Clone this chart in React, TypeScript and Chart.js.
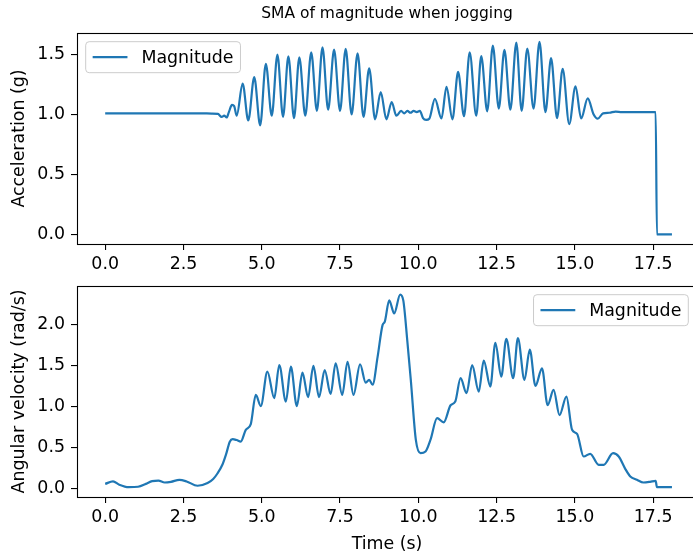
import React, { useEffect, useRef } from "react";
import { Chart, registerables } from "chart.js";

Chart.register(...registerables);

// ---------- data ----------
const chartTitle = "SMA of magnitude when jogging";
const seriesLabel = "Magnitude";
const accAxisLabel = "Acceleration (g)";
const gyroAxisLabel = "Angular velocity (rad/s)";
const timeAxisLabel = "Time (s)";

const xTickValues = [0, 2.5, 5, 7.5, 10, 12.5, 15, 17.5];
const accTickValues = [0, 0.5, 1.0, 1.5];
const gyroTickValues = [0, 0.5, 1.0, 1.5, 2.0];

const accTime = [
  0.0, 0.5, 1.0, 1.5, 2.0, 2.5, 3.0, 3.4, 3.6, 3.72, 3.8, 3.88, 3.95, 4.05, 4.12, 4.2,
  4.39, 4.57, 4.76, 4.95, 5.13, 5.32, 5.5, 5.68, 5.85, 6.03, 6.2, 6.39, 6.58, 6.76, 6.94,
  7.12, 7.31, 7.5, 7.68, 7.87, 8.06, 8.25, 8.43, 8.62, 8.8, 8.98, 9.15, 9.3, 9.45, 9.55,
  9.65, 9.75, 9.85, 9.95, 10.05, 10.15, 10.25, 10.35, 10.53, 10.74, 10.9, 11.09, 11.27,
  11.46, 11.64, 11.85, 12.01, 12.2, 12.38, 12.57, 12.75, 12.94, 13.13, 13.3, 13.48, 13.68,
  13.87, 14.06, 14.24, 14.43, 14.61, 14.82, 15.02, 15.2, 15.41, 15.6, 15.73, 15.9, 16.1,
  16.3, 16.5, 17.0, 17.58, 17.62, 18.1,
];
const accValues = [
  1.01, 1.01, 1.01, 1.01, 1.01, 1.01, 1.01, 1.008, 1.005, 0.98, 0.99, 0.975, 1.02, 1.08, 1.07, 0.99,
  1.257, 0.95, 1.312, 0.91, 1.423, 0.99, 1.5, 0.98, 1.486, 0.97, 1.477, 0.99, 1.519, 1.03, 1.56,
  1.04, 1.541, 1.03, 1.547, 1.0, 1.51, 0.98, 1.386, 0.96, 1.187, 0.96, 1.104, 0.99, 1.03, 1.01,
  1.03, 1.015, 1.03, 1.02, 1.03, 0.97, 0.955, 0.965, 1.13, 0.967, 1.23, 0.96, 1.355,
  0.986, 1.519, 0.99, 1.488, 1.027, 1.574, 1.05, 1.54, 1.04, 1.6, 1.03, 1.55, 1.05,
  1.607, 1.02, 1.47, 0.97, 1.38, 0.92, 1.236, 0.967, 1.135, 1.0, 0.965, 1.01, 1.015,
  1.025, 1.02, 1.02, 1.02, 0.0, 0.0,
];

const gyroTime = [
  0.0, 0.25, 0.45, 0.75, 1.05, 1.3, 1.5, 1.7, 1.9, 2.1, 2.37, 2.6, 2.95, 3.27, 3.45, 3.59,
  3.75, 3.86, 3.98, 4.07, 4.2, 4.33, 4.49, 4.65, 4.81, 4.97, 5.18, 5.4, 5.56, 5.77, 5.93,
  6.12, 6.3, 6.48, 6.65, 6.83, 7.01, 7.2, 7.36, 7.57, 7.74, 7.93, 8.14, 8.32, 8.43, 8.54,
  8.7, 8.86, 8.93, 9.07, 9.23, 9.42, 9.52, 9.65, 9.76, 9.92, 10.07, 10.23, 10.39, 10.6,
  10.81, 11.03, 11.18, 11.35, 11.54, 11.72, 11.93, 12.09, 12.3, 12.46, 12.65, 12.81, 13.03,
  13.18, 13.39, 13.56, 13.74, 13.95, 14.13, 14.32, 14.51, 14.73, 14.91, 15.07, 15.28,
  15.49, 15.76, 15.92, 16.22, 16.4, 16.6, 16.77, 16.98, 17.19, 17.4, 17.58, 17.62, 18.1,
];
const gyroValues = [
  0.06, 0.09, 0.05, 0.02, 0.025, 0.06, 0.094, 0.1, 0.077, 0.085, 0.11, 0.09, 0.037, 0.07, 0.12, 0.19,
  0.3, 0.42, 0.575, 0.606, 0.595, 0.577, 0.72, 0.79, 1.146, 1.01, 1.43, 1.106, 1.51, 1.065, 1.49,
  1.01, 1.418, 1.118, 1.5, 1.118, 1.45, 1.158, 1.53, 1.146, 1.55, 1.146, 1.52, 1.296, 1.33, 1.27,
  1.61, 2.0, 2.04, 2.3, 2.14, 2.37, 2.3, 1.8, 1.33, 0.6, 0.435, 0.455, 0.6, 0.862,
  0.81, 1.02, 1.065, 1.35, 1.167, 1.51, 1.187, 1.565, 1.248, 1.78, 1.37, 1.83, 1.35,
  1.84, 1.33, 1.7, 1.256, 1.47, 1.02, 1.207, 0.9, 1.126, 0.72, 0.67, 0.394,
  0.427, 0.293, 0.293, 0.435, 0.394, 0.25, 0.15, 0.11, 0.077, 0.085, 0.097, 0.02, 0.02,
];

// ---------- axis limits ----------
const X_MIN = -0.9;
const X_MAX = 18.9;
const ACC_MIN = -0.08;
const ACC_MAX = 1.68;
const GYRO_MIN = -0.1;
const GYRO_MAX = 2.475;

// ---------- style ----------
const FAMILY = "'DejaVu Sans', sans-serif";
const FS = 17.4;
const TITLE_FS = 15.5;
const BLUE = "#1f77b4";
const CANVAS_W = 710;
const CANVAS_H = 285;

const mplPlugin = {
  id: "mplFrame",
  afterDraw(chart: any) {
    const { ctx, chartArea: a } = chart;
    const o = chart.options.plugins.mplFrame || {};
    ctx.save();
    // frame (spines)
    ctx.strokeStyle = "#000";
    ctx.lineWidth = 1.1;
    const l = Math.round(a.left) + 0.5;
    const t = Math.round(a.top) + 0.5;
    const r = Math.round(a.right) + 0.5;
    const b = Math.round(a.bottom) + 0.5;
    ctx.strokeRect(l, t, r - l, b - t);
    // legend
    const label = chart.data.datasets[0].label;
    ctx.font = `${FS}px ${FAMILY}`;
    const tw = ctx.measureText(label).width;
    const pad = 0.4 * FS;
    const hl = 2 * FS;
    const htp = 0.8 * FS;
    const bap = 0.5 * FS;
    const w = pad + hl + htp + tw + pad;
    const h = 31;
    const x0 = o.corner === "right" ? a.right - bap - w : a.left + bap;
    const y0 = a.top + bap;
    const rad = 3.5;
    ctx.beginPath();
    ctx.moveTo(x0 + rad, y0);
    ctx.lineTo(x0 + w - rad, y0);
    ctx.quadraticCurveTo(x0 + w, y0, x0 + w, y0 + rad);
    ctx.lineTo(x0 + w, y0 + h - rad);
    ctx.quadraticCurveTo(x0 + w, y0 + h, x0 + w - rad, y0 + h);
    ctx.lineTo(x0 + rad, y0 + h);
    ctx.quadraticCurveTo(x0, y0 + h, x0, y0 + h - rad);
    ctx.lineTo(x0, y0 + rad);
    ctx.quadraticCurveTo(x0, y0, x0 + rad, y0);
    ctx.closePath();
    ctx.fillStyle = "rgba(255,255,255,0.8)";
    ctx.fill();
    ctx.strokeStyle = "#cccccc";
    ctx.lineWidth = 1;
    ctx.stroke();
    ctx.strokeStyle = BLUE;
    ctx.lineWidth = 2.2;
    ctx.beginPath();
    ctx.moveTo(x0 + pad, y0 + h / 2);
    ctx.lineTo(x0 + pad + hl, y0 + h / 2);
    ctx.stroke();
    ctx.fillStyle = "#000";
    ctx.textBaseline = "middle";
    ctx.textAlign = "left";
    ctx.fillText(label, x0 + pad + hl + htp, y0 + h / 2 + 1);
    ctx.restore();
  },
};

const tickFont = { family: FAMILY, size: FS };
const gridOpts = {
  display: true,
  drawOnChartArea: false,
  drawTicks: true,
  tickLength: 6,
  color: "#000",
  lineWidth: 1.1,
};

function xScale(axisHeight: number, showTitle: boolean) {
  return {
    type: "linear",
    min: X_MIN,
    max: X_MAX,
    afterBuildTicks: (s: any) => {
      s.ticks = xTickValues.map((v) => ({ value: v }));
    },
    afterFit: (s: any) => {
      s.height = axisHeight;
      s.paddingLeft = 0;
      s.paddingRight = 0;
    },
    ticks: {
      autoSkip: false,
      maxRotation: 0,
      minRotation: 0,
      padding: 4,
      color: "#000",
      font: tickFont,
      callback: (v: any) => Number(v).toFixed(1),
    },
    grid: gridOpts,
    border: { display: false },
    title: {
      display: showTitle,
      text: timeAxisLabel,
      color: "#000",
      font: tickFont,
      padding: { top: 0, bottom: 0.5 },
    },
  };
}

function yScale(min: number, max: number, tickVals: number[], label: string) {
  return {
    type: "linear",
    min,
    max,
    afterBuildTicks: (s: any) => {
      s.ticks = tickVals.map((v) => ({ value: v }));
    },
    afterFit: (s: any) => {
      s.width = 77;
      s.paddingTop = 0;
      s.paddingBottom = 0;
    },
    ticks: {
      padding: 6,
      color: "#000",
      font: tickFont,
      callback: (v: any) => Number(v).toFixed(1),
    },
    grid: gridOpts,
    border: { display: false },
    title: {
      display: true,
      text: label,
      color: "#000",
      font: tickFont,
      padding: { top: 9.5, bottom: 0 },
    },
  };
}

function makeConfig(kind: "acc" | "gyro"): any {
  const isAcc = kind === "acc";
  const times = isAcc ? accTime : gyroTime;
  const vals = isAcc ? accValues : gyroValues;
  return {
    type: "line",
    data: {
      datasets: [
        {
          label: seriesLabel,
          data: times.map((t, i) => ({ x: t, y: vals[i] })),
          borderColor: BLUE,
          backgroundColor: BLUE,
          borderWidth: 2.2,
          pointRadius: 0,
          fill: false,
          cubicInterpolationMode: "monotone",
        },
      ],
    },
    options: {
      responsive: false,
      animation: false,
      devicePixelRatio: 1,
      layout: {
        autoPadding: false,
        padding: isAcc
          ? { top: 0, left: 0, right: CANVAS_W - 697, bottom: 0 }
          : { top: 16, left: 0, right: CANVAS_W - 697, bottom: 0 },
      },
      scales: {
        x: xScale(isAcc ? CANVAS_H - 244 : CANVAS_H - 227, !isAcc),
        y: isAcc
          ? yScale(ACC_MIN, ACC_MAX, accTickValues, accAxisLabel)
          : yScale(GYRO_MIN, GYRO_MAX, gyroTickValues, gyroAxisLabel),
      },
      plugins: {
        legend: { display: false },
        tooltip: { enabled: false },
        title: {
          display: isAcc,
          text: chartTitle,
          fullSize: false,
          align: "center",
          color: "#000",
          font: { family: FAMILY, size: TITLE_FS, weight: "normal" },
          padding: { top: 4.7, bottom: 9.7 },
        },
        mplFrame: { corner: isAcc ? "left" : "right" },
      },
    },
    plugins: [mplPlugin],
  };
}

export default function App() {
  const ref1 = useRef<HTMLCanvasElement>(null);
  const ref2 = useRef<HTMLCanvasElement>(null);
  useEffect(() => {
    const c1 = new Chart(ref1.current as HTMLCanvasElement, makeConfig("acc"));
    const c2 = new Chart(ref2.current as HTMLCanvasElement, makeConfig("gyro"));
    return () => {
      c1.destroy();
      c2.destroy();
    };
  }, []);
  return (
    <div
      style={{
        position: "fixed",
        left: 0,
        top: 0,
        width: 693,
        height: 555,
        overflow: "hidden",
        background: "#fff",
      }}
    >
      <canvas
        ref={ref1}
        width={CANVAS_W}
        height={CANVAS_H}
        style={{ position: "absolute", left: 0, top: 0, width: CANVAS_W, height: CANVAS_H }}
      />
      <canvas
        ref={ref2}
        width={CANVAS_W}
        height={CANVAS_H}
        style={{ position: "absolute", left: 0, top: 270, width: CANVAS_W, height: CANVAS_H }}
      />
    </div>
  );
}
